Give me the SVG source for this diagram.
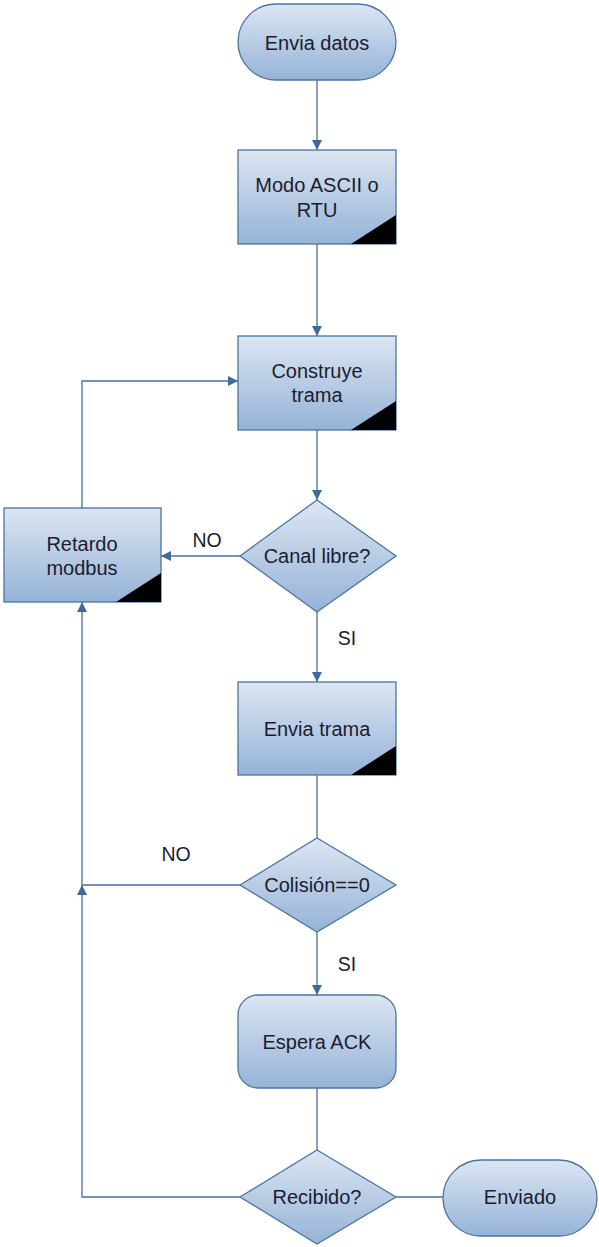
<svg xmlns="http://www.w3.org/2000/svg" width="599" height="1247" viewBox="0 0 599 1247">
  <defs>
    <linearGradient id="nodeFill" x1="0" y1="0" x2="0" y2="1">
      <stop offset="0" stop-color="#dce6f2"/>
      <stop offset="1" stop-color="#95b3d7"/>
    </linearGradient>
    <marker id="arrow" viewBox="0 0 10 10" refX="10" refY="5" markerWidth="10" markerHeight="10" markerUnits="userSpaceOnUse" orient="auto">
      <path d="M0,0 L10,5 L0,10 Z" fill="#3f6a9c"/>
    </marker>
    <style>
      .shape { fill: url(#nodeFill); stroke: #4a74a6; stroke-width: 1.3; }
      .corner { fill: #000; }
      .label { font-family: "Liberation Sans", Arial, sans-serif; font-size: 20px; fill: #1c1c30; text-anchor: middle; }
      .edge { fill: none; stroke: #4a6fa0; stroke-width: 1.3; }
      .edge-label { font-family: "Liberation Sans", Arial, sans-serif; font-size: 19.5px; fill: #1c1c30; text-anchor: middle; }
    </style>
  </defs>
  <rect width="599" height="1247" fill="#ffffff"/>

  <g id="connectors">
    <path class="edge" d="M317,80 V150" marker-end="url(#arrow)"/>
    <path class="edge" d="M317,244 V336" marker-end="url(#arrow)"/>
    <path class="edge" d="M317,430 V500" marker-end="url(#arrow)"/>
    <path class="edge" d="M240,556 H161" marker-end="url(#arrow)"/>
    <path class="edge" d="M82,508 V381 H238" marker-end="url(#arrow)"/>
    <path class="edge" d="M317,612 V682" marker-end="url(#arrow)"/>
    <path class="edge" d="M317,775 V838"/>
    <path class="edge" d="M240,885 H82 V602" marker-end="url(#arrow)"/>
    <path class="edge" d="M317,932 V995" marker-end="url(#arrow)"/>
    <path class="edge" d="M317,1088 V1150"/>
    <path class="edge" d="M240,1197 H82 V885" marker-end="url(#arrow)"/>
    <path class="edge" d="M396,1197 H443"/>
    <text class="edge-label" x="207" y="547">NO</text>
    <text class="edge-label" x="347" y="645">SI</text>
    <text class="edge-label" x="176" y="861">NO</text>
    <text class="edge-label" x="347" y="971">SI</text>
  </g>

  <g id="envia-datos">
    <rect class="shape" x="238" y="4" width="158" height="76" rx="38" ry="38"/>
    <text class="label" x="317" y="50">Envia datos</text>
  </g>

  <g id="modo-ascii-rtu">
    <rect class="shape" x="238" y="150" width="158" height="94"/>
    <path class="corner" d="M396,215 V244 H351 Z"/>
    <text class="label" x="317" y="192">Modo ASCII o</text>
    <text class="label" x="317" y="217">RTU</text>
  </g>

  <g id="construye-trama">
    <rect class="shape" x="238" y="336" width="158" height="94"/>
    <path class="corner" d="M396,401 V430 H351 Z"/>
    <text class="label" x="317" y="378">Construye</text>
    <text class="label" x="317" y="402">trama</text>
  </g>

  <g id="canal-libre">
    <path class="shape" d="M317,500 L396,556 L317,612 L240,556 Z"/>
    <text class="label" x="317" y="563">Canal libre?</text>
  </g>

  <g id="retardo-modbus">
    <rect class="shape" x="4" y="508" width="157" height="94"/>
    <path class="corner" d="M161,573 V602 H116 Z"/>
    <text class="label" x="82" y="551">Retardo</text>
    <text class="label" x="82" y="575">modbus</text>
  </g>

  <g id="envia-trama">
    <rect class="shape" x="238" y="682" width="158" height="93"/>
    <path class="corner" d="M396,746 V775 H351 Z"/>
    <text class="label" x="317" y="736">Envia trama</text>
  </g>

  <g id="colision">
    <path class="shape" d="M317,838 L396,885 L317,932 L240,885 Z"/>
    <text class="label" x="317" y="892">Colisión==0</text>
  </g>

  <g id="espera-ack">
    <rect class="shape" x="238" y="995" width="158" height="93" rx="20" ry="20"/>
    <text class="label" x="317" y="1049">Espera ACK</text>
  </g>

  <g id="recibido">
    <path class="shape" d="M317,1150 L396,1197 L317,1244 L240,1197 Z"/>
    <text class="label" x="317" y="1204">Recibido?</text>
  </g>

  <g id="enviado">
    <rect class="shape" x="443" y="1160" width="154" height="76" rx="38" ry="38"/>
    <text class="label" x="520" y="1204">Enviado</text>
  </g>
</svg>
